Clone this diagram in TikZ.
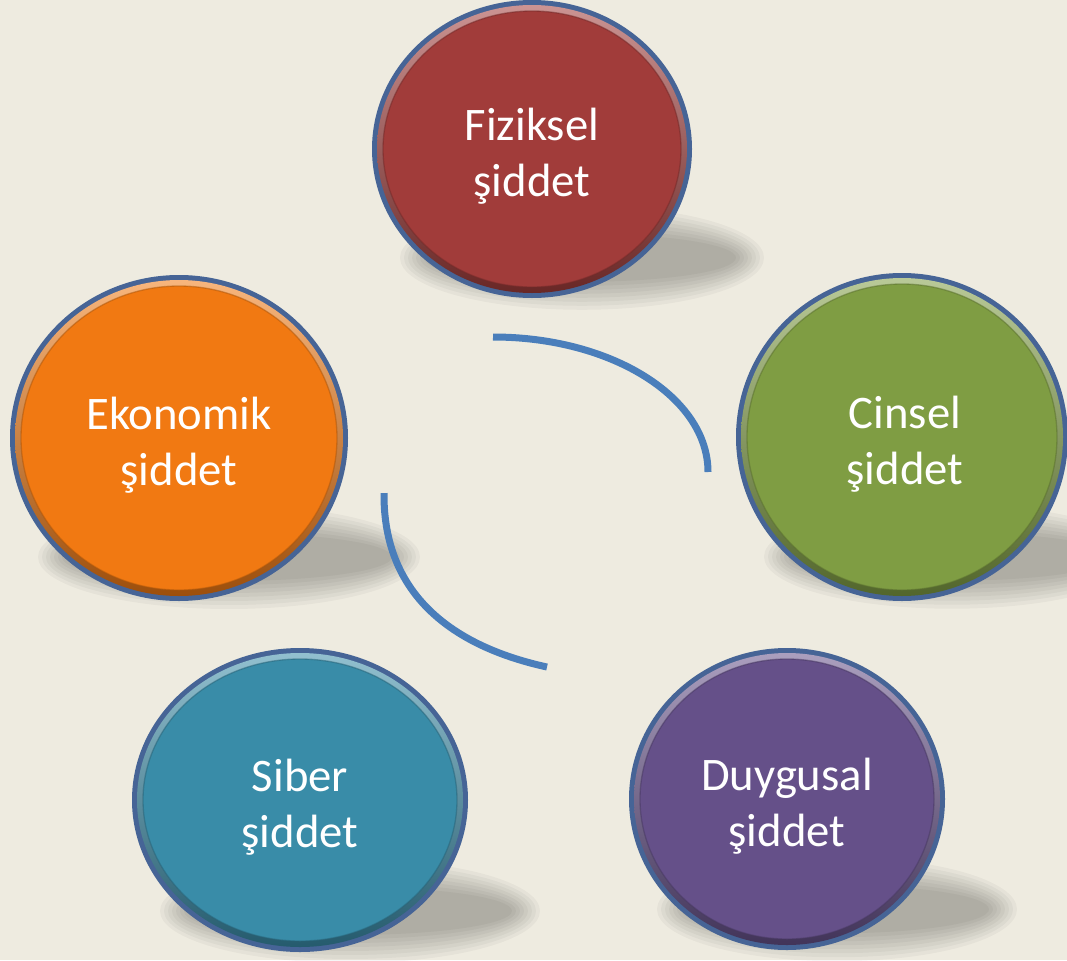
\documentclass[tikz,border=0pt]{standalone}
\usepackage{fontspec}
\setmainfont{Carlito}
\definecolor{bgc}{RGB}{238,235,224}
\definecolor{ringc}{RGB}{70,100,150}
\definecolor{arcc}{RGB}{74,126,187}
\definecolor{fizc}{RGB}{161,60,58}
\definecolor{cinc}{RGB}{127,157,67}
\definecolor{ekoc}{RGB}{241,121,18}
\definecolor{sibc}{RGB}{57,140,168}
\definecolor{duyc}{RGB}{101,80,137}
\tikzset{
  balltext/.style={text=white, font=\fontsize{35}{42}\selectfont, align=center, inner sep=0pt},
  arcline/.style={draw=arcc, line width=5.25pt, line cap=butt},
}
% shadow: cx, cy, rx, ry
\newcommand\myshadow[4]{%
  \foreach \d in {14,10,6,2,-2,-6,-10,-14} {%
    \fill[black,opacity=0.035] ({#1+50},{#2+0.73*#4}) ellipse[x radius={#3+8+\d}, y radius={38+\d}];
  }%
}
% ball: name, cx, cy, rx, ry, colour
\newcommand\myball[6]{%
  \fill[ringc] (#2,#3) ellipse[x radius=#4, y radius=#5];
  \shade[top color=#6!55!white, bottom color=#6!65!black] (#2,#3) ellipse[x radius={#4-5}, y radius={#5-5}];
  \fill[#6] (#2,#3) ellipse[x radius={#4-11}, y radius={#5-11}];
  \draw[#6!70!black, line width=1pt, opacity=0.5] (#2,#3) ellipse[x radius={#4-11}, y radius={#5-11}];
}
\begin{document}
\begin{tikzpicture}[x=0.75pt,y=-0.75pt]
\fill[bgc] (0,0) rectangle (1067,960);
\useasboundingbox (0,0) rectangle (1067,960);
% shadows
\myshadow{532}{149}{160}{149}
\myshadow{902}{437}{166}{164}
\myshadow{787}{799}{158}{151}
\myshadow{300}{800}{168}{152}
\myshadow{179}{438}{169}{163}
% arcs
\coordinate (a1s) at (493,337);
\coordinate (a1e) at (708,472);
\coordinate (a2s) at (384,493);
\coordinate (a2e) at (547,667);
\draw[arcline] (a1s) .. controls (612,337) and (708,397.5) .. (a1e);
\draw[arcline] (a2s) .. controls (383,600) and (460,648) .. (a2e);
% balls
\myball{fiz}{532}{149}{160}{149}{fizc}
\myball{cin}{902}{437}{166}{164}{cinc}
\myball{duy}{787}{799}{158}{151}{duyc}
\myball{sib}{300}{800}{168}{152}{sibc}
\myball{eko}{179}{438}{169}{163}{ekoc}
\node[balltext] (fiz) at (532,156) {Fiziksel\\şiddet};
\node[balltext] (cin) at (905,444) {Cinsel\\şiddet};
\node[balltext] (duy) at (787,806) {Duygusal\\şiddet};
\node[balltext] (sib) at (300,807) {Siber\\şiddet};
\node[balltext] (eko) at (179,445) {Ekonomik\\şiddet};
\end{tikzpicture}
\end{document}
